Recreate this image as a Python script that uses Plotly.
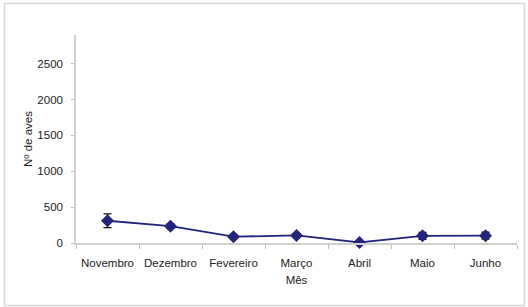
import plotly.graph_objects as go

months = ["Novembro", "Dezembro", "Fevereiro", "Março", "Abril", "Maio", "Junho"]
aves = [310, 235, 88, 105, 8, 100, 102]
erro = [95, 30, 25, 25, 5, 48, 48]
y_ticks = [0, 500, 1000, 1500, 2000, 2500]

L, R, T, B = 76, 11, 35, 64
W, H = 528, 307
pw, ph = W - L - R, H - T - B

fig = go.Figure()
fig.add_trace(go.Scatter(
    x=months, y=aves,
    mode="lines+markers",
    line=dict(color="#24247a", width=1.8),
    marker=dict(symbol="diamond", size=10, color="#24247a"),
    error_y=dict(type="data", array=erro, visible=True, color="#111111",
                 thickness=1.3, width=4),
    cliponaxis=False,
))

def px(x):
    return (x - L) / pw

def py(y):
    return (H - B - y) / ph

fig.add_shape(type="rect", xref="paper", yref="paper",
              x0=px(4.5), x1=px(524.5), y0=py(305.5), y1=py(3.5),
              line=dict(color="#d9d9d9", width=1.5), fillcolor="rgba(0,0,0,0)")

fig.update_layout(
    width=W, height=H,
    margin=dict(l=L, r=R, t=T, b=B, autoexpand=False),
    paper_bgcolor="white", plot_bgcolor="white",
    showlegend=False,
    font=dict(family="Liberation Sans, Arial", size=11.5, color="#222222"),
)
fig.update_xaxes(
    type="category", range=[-0.5, 6.5], automargin=False,
    showline=True, linecolor="#d0d0d0", linewidth=1.5,
    ticks="outside", tickson="boundaries", ticklen=4, tickcolor="#c0c0c0",
    ticklabelstandoff=8,
    showgrid=False, zeroline=False,
    title=dict(text="Mês", font=dict(size=11.5), standoff=8),
)
fig.update_yaxes(
    range=[0, 2900], tickvals=y_ticks, automargin=False,
    showline=True, linecolor="#d0d0d0", linewidth=1.5,
    ticks="outside", ticklen=3, tickcolor="#c0c0c0",
    ticklabelstandoff=6,
    showgrid=False, zeroline=False,
    title=dict(text="Nº de aves", font=dict(size=11.5), standoff=2),
)

fig.write_html("out.html",
               config={"displayModeBar": False},
               post_script="document.body.style.margin='0';document.body.style.overflow='hidden';")
